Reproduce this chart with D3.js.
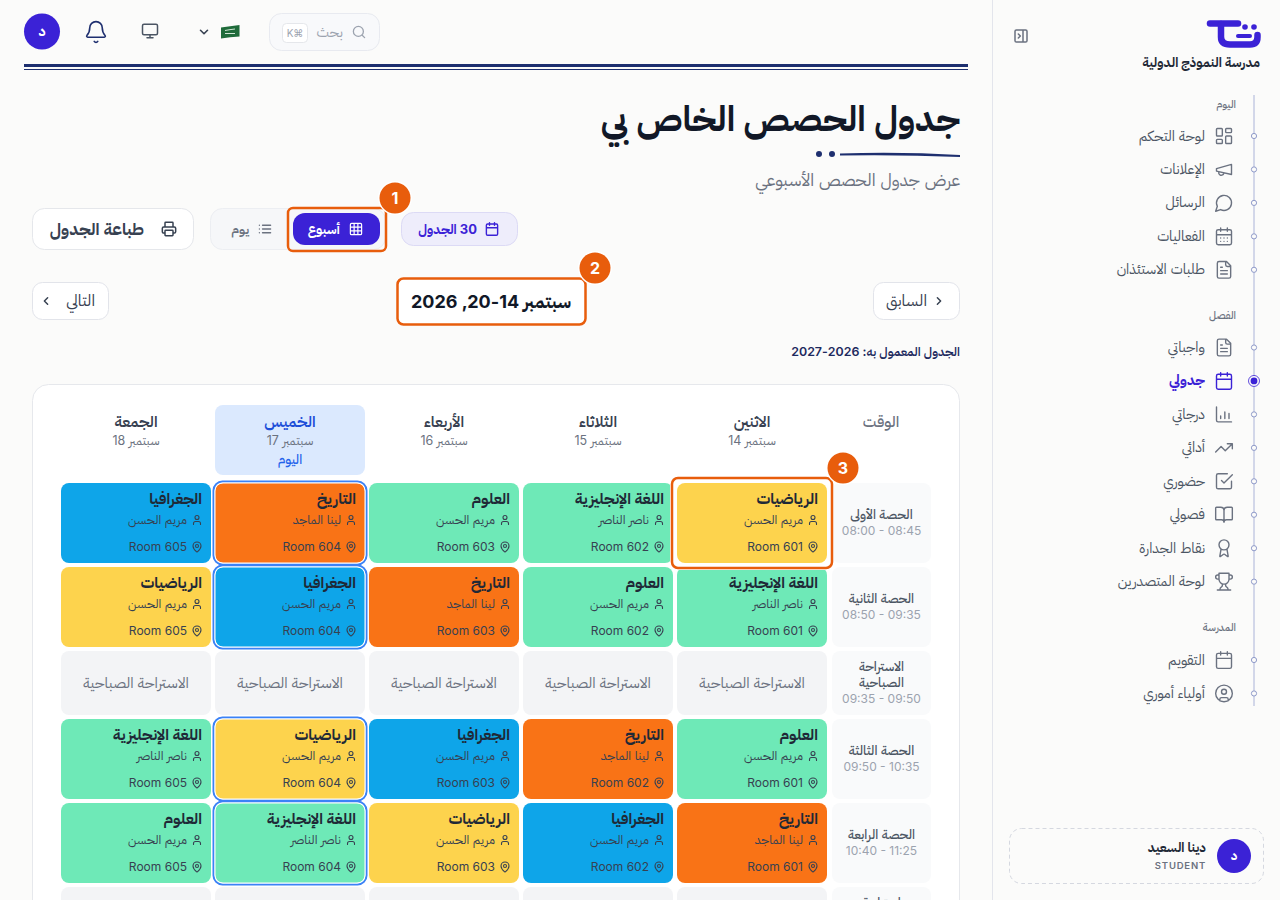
<!DOCTYPE html>
<html lang="ar" dir="rtl">
<head>
<meta charset="utf-8">
<title>جدولي</title>
<script src="https://cdn.jsdelivr.net/npm/d3@7/dist/d3.min.js"></script>
<style>
  html, body { margin: 0; padding: 0; background: #fbfbfa; overflow: hidden; }
  svg { display: block; font-family: "Inter", "IBM Plex Sans Arabic", "Noto Sans Arabic", "DejaVu Sans", sans-serif; direction: rtl; }
  text { dominant-baseline: central; }
  .ic { fill: none; stroke-linecap: round; stroke-linejoin: round; }
</style>
</head>
<body>
<div id="app"></div>
<script>
// data
const days = ["الاثنين", "الثلاثاء", "الأربعاء", "الخميس", "الجمعة"];
const dayDates = ["سبتمبر 14", "سبتمبر 15", "سبتمبر 16", "سبتمبر 17", "سبتمبر 18"];
const rooms = ["Room 601", "Room 602", "Room 603", "Room 604", "Room 605"];
const todayName = "الخميس";

const periodNames = ["الحصة الأولى", "الحصة الثانية", "الاستراحة الصباحية", "الحصة الثالثة", "الحصة الرابعة", "استراحة الغداء"];
const periodTimes = ["08:00 - 08:45", "08:50 - 09:35", "09:35 - 09:50", "09:50 - 10:35", "10:40 - 11:25", "11:25 - 12:10"];

const subjectNames = ["الرياضيات", "اللغة الإنجليزية", "العلوم", "التاريخ", "الجغرافيا"];
const subjectTeachers = ["مريم الحسن", "ناصر الناصر", "مريم الحسن", "لينا الماجد", "مريم الحسن"];
const subjectColors = ["#fdd34d", "#6ee9b7", "#6ee9b7", "#f97316", "#0ea5e9"];

// cells per period, monday first, null = break row
const period1 = ["الرياضيات", "اللغة الإنجليزية", "العلوم", "التاريخ", "الجغرافيا"];
const period2 = ["اللغة الإنجليزية", "العلوم", "التاريخ", "الجغرافيا", "الرياضيات"];
const period3 = null;
const period4 = ["العلوم", "التاريخ", "الجغرافيا", "الرياضيات", "اللغة الإنجليزية"];
const period5 = ["التاريخ", "الجغرافيا", "الرياضيات", "اللغة الإنجليزية", "العلوم"];
const period6 = null;
const timetable = [period1, period2, period3, period4, period5, period6];

const navToday = ["لوحة التحكم", "الإعلانات", "الرسائل", "الفعاليات", "طلبات الاستئذان"];
const navClass = ["واجباتي", "جدولي", "درجاتي", "أدائي", "حضوري", "فصولي", "نقاط الجدارة", "لوحة المتصدرين"];
const navSchool = ["التقويم", "أولياء أموري"];

// lucide style icons, 24 box
const icons = {
  grid4: "M4 3h5a1 1 0 0 1 1 1v7a1 1 0 0 1-1 1H4a1 1 0 0 1-1-1V4a1 1 0 0 1 1-1zM15 3h5a1 1 0 0 1 1 1v3a1 1 0 0 1-1 1h-5a1 1 0 0 1-1-1V4a1 1 0 0 1 1-1zM15 12h5a1 1 0 0 1 1 1v7a1 1 0 0 1-1 1h-5a1 1 0 0 1-1-1v-7a1 1 0 0 1 1-1zM4 16h5a1 1 0 0 1 1 1v3a1 1 0 0 1-1 1H4a1 1 0 0 1-1-1v-3a1 1 0 0 1 1-1z",
  megaphone: "M3 11l18-5v12L3 14v-3zM11.600 16.800a3 3 0 1 1-5.800-1.600",
  message: "M7.900 20A9 9 0 1 0 4 16.100L2 22Z",
  events: "M8 2v4M16 2v4M5 4h14a2 2 0 0 1 2 2v14a2 2 0 0 1-2 2H5a2 2 0 0 1-2-2V6a2 2 0 0 1 2-2zM3 10h18M8 14h.01M12 14h.01M16 14h.01M8 18h.01M12 18h.01M16 18h.01",
  file: "M15 2H6a2 2 0 0 0-2 2v16a2 2 0 0 0 2 2h12a2 2 0 0 0 2-2V7zM14 2v4a2 2 0 0 0 2 2h4M10 9H8M16 13H8M16 17H8",
  calendar: "M8 2v4M16 2v4M5 4h14a2 2 0 0 1 2 2v14a2 2 0 0 1-2 2H5a2 2 0 0 1-2-2V6a2 2 0 0 1 2-2zM3 10h18",
  chart: "M3 3v16a2 2 0 0 0 2 2h16M8 17v-3M13 17V9M18 17v-6",
  trending: "M22 7l-8.500 8.500-5-5L2 17M16 7h6v6",
  check: "M9 11l3 3L22 4M21 12v7a2 2 0 0 1-2 2H5a2 2 0 0 1-2-2V5a2 2 0 0 1 2-2h11",
  book: "M12 7v14M3 18a1 1 0 0 1-1-1V4a1 1 0 0 1 1-1h5a4 4 0 0 1 4 4 4 4 0 0 1 4-4h5a1 1 0 0 1 1 1v13a1 1 0 0 1-1 1h-6a3 3 0 0 0-3 3 3 3 0 0 0-3-3z",
  award: "M15.500 12.900l1.500 8.600a.5.5 0 0 1-.8.5l-3.600-2.700a1 1 0 0 0-1.200 0l-3.600 2.700a.5.5 0 0 1-.8-.5l1.500-8.600M18 8A6 6 0 1 1 6 8a6 6 0 0 1 12 0z",
  trophy: "M6 9H4.500a2.500 2.500 0 0 1 0-5H6M18 9h1.500a2.500 2.500 0 0 0 0-5H18M4 22h16M10 14.700V17c0 .6-.5 1-1 1.200C7.800 18.800 7 20.200 7 22M14 14.700V17c0 .6.5 1 1 1.200 1.200.6 2 2 2 3.800M18 2H6v7a6 6 0 0 0 12 0V2z",
  userCircle: "M12 2a10 10 0 1 0 0 20 10 10 0 0 0 0-20zM12 7a3 3 0 1 0 0 6 3 3 0 0 0 0-6zM7 20.700V19a2 2 0 0 1 2-2h6a2 2 0 0 1 2 2v1.700",
  user: "M19 21v-2a4 4 0 0 0-4-4H9a4 4 0 0 0-4 4v2M12 3a4 4 0 1 0 0 8 4 4 0 0 0 0-8z",
  pin: "M20 10c0 5-5.500 10.200-7.400 11.800a1 1 0 0 1-1.200 0C9.500 20.200 4 15 4 10a8 8 0 0 1 16 0zM12 7a3 3 0 1 0 0 6 3 3 0 0 0 0-6z",
  search: "M11 3a8 8 0 1 0 0 16 8 8 0 0 0 0-16zM21 21l-4.300-4.300",
  bell: "M10.300 21a2 2 0 0 0 3.400 0M3.300 15.300A1 1 0 0 0 4 17h16a1 1 0 0 0 .7-1.700C19.400 14 18 12.500 18 8A6 6 0 0 0 6 8c0 4.500-1.400 6-2.700 7.300z",
  monitor: "M4 3h16a2 2 0 0 1 2 2v10a2 2 0 0 1-2 2H4a2 2 0 0 1-2-2V5a2 2 0 0 1 2-2zM8 21h8M12 17v4",
  printer: "M6 18H4a2 2 0 0 1-2-2v-5a2 2 0 0 1 2-2h16a2 2 0 0 1 2 2v5a2 2 0 0 1-2 2h-2M6 9V3a1 1 0 0 1 1-1h10a1 1 0 0 1 1 1v6M7 14h10a1 1 0 0 1 1 1v6a1 1 0 0 1-1 1H7a1 1 0 0 1-1-1v-6a1 1 0 0 1 1-1z",
  list: "M3 12h.01M3 18h.01M3 6h.01M8 12h13M8 18h13M8 6h13",
  table: "M5 3h14a2 2 0 0 1 2 2v14a2 2 0 0 1-2 2H5a2 2 0 0 1-2-2V5a2 2 0 0 1 2-2zM3 9h18M3 15h18M9 3v18M15 3v18",
  down: "M6 9l6 6 6-6",
  left: "M15 18l-6-6 6-6",
  right: "M9 18l6-6-6-6",
  panel: "M5 3h14a2 2 0 0 1 2 2v14a2 2 0 0 1-2 2H5a2 2 0 0 1-2-2V5a2 2 0 0 1 2-2zM15 3v18M8 9l3 3-3 3"
};

const W = 1280, H = 900;
const INDIGO = "#3b22d6", ORANGE = "#e85d0c", NAVY = "#1e2f6f";

const svg = d3.select("#app").append("svg").attr("width", W).attr("height", H).attr("viewBox", `0 0 ${W} ${H}`);
svg.append("rect").attr("width", W).attr("height", H).attr("fill", "#fbfbfa");

function label(g, str, x, y, size, weight, color, anchor) {
  return g.append("text").attr("x", x).attr("y", y)
    .attr("font-size", size).attr("font-weight", weight).attr("fill", color)
    .attr("text-anchor", anchor || "start").text(str);
}

function icon(g, name, cx, cy, size, color, sw) {
  const s = size / 24;
  return g.append("path").attr("class", "ic").attr("d", icons[name])
    .attr("transform", `translate(${cx - size / 2},${cy - size / 2}) scale(${s})`)
    .attr("stroke", color).attr("stroke-width", (sw || 1.6) / s);
}

function box(g, x, y, w, h, r, fill, stroke, sw) {
  return g.append("rect").attr("x", x).attr("y", y).attr("width", w).attr("height", h).attr("rx", r)
    .attr("fill", fill).attr("stroke", stroke || "none").attr("stroke-width", sw || 1);
}

function badge(g, n, cx, cy) {
  g.append("circle").attr("cx", cx).attr("cy", cy).attr("r", 17).attr("fill", "#fff");
  g.append("circle").attr("cx", cx).attr("cy", cy).attr("r", 15.5).attr("fill", ORANGE);
  label(g, n, cx, cy, 16, 700, "#fff", "middle").attr("direction", "ltr");
}

// ---- sidebar
const side = svg.append("g");
side.append("line").attr("x1", 992.5).attr("x2", 992.5).attr("y1", 0).attr("y2", H).attr("stroke", "#e3e5ec");
icon(side, "panel", 1021, 36, 16, "#6b7280", 1.5);

// logo
const logo = side.append("g").attr("fill", "none").attr("stroke", INDIGO).attr("stroke-linecap", "round");
logo.append("path").attr("d", "M1210 23.500 H1238").attr("stroke-width", 6.5);
logo.append("path").attr("d", "M1221 24 V37 Q1221 44.500 1230 44.500 H1250 Q1257.500 44.500 1257.500 37 V35").attr("stroke-width", 6.5);
logo.append("path").attr("d", "M1238 36 H1250").attr("stroke-width", 4);
side.append("circle").attr("cx", 1245).attr("cy", 27).attr("r", 2.8).attr("fill", INDIGO);
side.append("circle").attr("cx", 1254).attr("cy", 27).attr("r", 2.8).attr("fill", INDIGO);

label(side, "مدرسة النموذج الدولية", 1260, 62, 13, 700, "#1f2937");

side.append("line").attr("x1", 1254).attr("x2", 1254).attr("y1", 95).attr("y2", 706).attr("stroke", "#aab3d8").attr("stroke-width", 1);

const navIcons = {
  "لوحة التحكم": "grid4", "الإعلانات": "megaphone", "الرسائل": "message", "الفعاليات": "events", "طلبات الاستئذان": "file",
  "واجباتي": "file", "جدولي": "calendar", "درجاتي": "chart", "أدائي": "trending", "حضوري": "check", "فصولي": "book",
  "نقاط الجدارة": "award", "لوحة المتصدرين": "trophy", "التقويم": "calendar", "أولياء أموري": "userCircle"
};

function navGroup(title, titleY, items, firstY) {
  label(side, title, 1236, titleY - 0.5, 10.5, 500, "#6b7280");
  const step = 33.45;
  items.forEach((name, i) => {
    const y = firstY + i * step;
    const active = name === "جدولي";
    if (active) {
      side.append("circle").attr("cx", 1254).attr("cy", y).attr("r", 5.5).attr("fill", "#fbfbfa").attr("stroke", INDIGO).attr("stroke-width", 0.8);
      side.append("circle").attr("cx", 1254).attr("cy", y).attr("r", 3.4).attr("fill", INDIGO);
    } else {
      side.append("circle").attr("cx", 1254).attr("cy", y).attr("r", 2.6).attr("fill", "#fbfbfa").attr("stroke", "#8f9ac9").attr("stroke-width", 1);
    }
    icon(side, navIcons[name], 1224, y, 20, active ? INDIGO : "#6b7280", 1.4);
    label(side, name, 1205, y - 1, 14.2, active ? 700 : 400, active ? INDIGO : "#4b5563");
  });
}
navGroup("اليوم", 105, navToday, 136);
navGroup("الفصل", 316, navClass, 347.5);
navGroup("المدرسة", 628, navSchool, 660);

box(side, 1009.5, 828.5, 254, 55, 12, "none", "#d5d8e0").attr("stroke-dasharray", "4 3");
side.append("circle").attr("cx", 1234).attr("cy", 856).attr("r", 17).attr("fill", INDIGO);
label(side, "د", 1234, 855, 13, 700, "#fff", "middle");
label(side, "دينا السعيد", 1206, 847, 13, 700, "#1f2937");
label(side, "STUDENT", 1206, 865, 9.5, 600, "#6b7280").attr("letter-spacing", 0.8);

// ---- top bar
const topBar = svg.append("g");
topBar.append("circle").attr("cx", 42).attr("cy", 31.5).attr("r", 18).attr("fill", INDIGO);
label(topBar, "د", 42, 30, 14, 700, "#fff", "middle");
icon(topBar, "bell", 96, 32, 25, NAVY, 1.6);
icon(topBar, "monitor", 150, 31, 18, "#4b5563", 1.5);
icon(topBar, "down", 204, 32, 14, "#374151", 1.6);
// flag
topBar.append("path").attr("d", "M221 27.500 Q230 26 239.500 25 L239.500 36.500 Q230 37 221 38.500 Z").attr("fill", "#1f6b3a");
topBar.append("path").attr("d", "M225 30.500 Q230 29.500 235 29 M225 33.500 H235").attr("stroke", "#cfe6d4").attr("stroke-width", 1).attr("fill", "none");
box(topBar, 269.5, 13.5, 110, 37, 12, "#f8f9fb", "#e8eaf0");
box(topBar, 282.5, 23.5, 25, 19, 4, "#fff", "#e5e7eb");
label(topBar, "K⌘", 295, 33, 10, 400, "#9ca3af", "middle").attr("direction", "ltr");
label(topBar, "بحث", 343, 31, 14.5, 400, "#9ca3af");
icon(topBar, "search", 359, 32, 15, "#9ca3af", 1.3);
topBar.append("line").attr("x1", 24).attr("x2", 968).attr("y1", 65.5).attr("y2", 65.5).attr("stroke", NAVY).attr("stroke-width", 3);
topBar.append("line").attr("x1", 24).attr("x2", 968).attr("y1", 69.5).attr("y2", 69.5).attr("stroke", NAVY).attr("stroke-width", 1);

// ---- page title
const head = svg.append("g");
label(head, "جدول الحصص الخاص بي", 960, 118, 35.3, 700, "#111827");
head.append("path").attr("d", "M840 153.500 Q900 151.500 960 155 L960 157 Q900 154.500 840 155.500 Z").attr("fill", NAVY);
head.append("circle").attr("cx", 832).attr("cy", 154).attr("r", 3).attr("fill", NAVY);
head.append("circle").attr("cx", 819).attr("cy", 154).attr("r", 3).attr("fill", NAVY);
label(head, "عرض جدول الحصص الأسبوعي", 960, 179.5, 17.3, 400, "#6b7280");

// ---- toolbar
const bar = svg.append("g");
box(bar, 401.5, 212.5, 116, 33, 12, "#eeedfb", "#dcdaf5");
icon(bar, "calendar", 492, 229, 15, INDIGO, 1.4);
label(bar, "30 الجدول", 477, 229, 13, 700, INDIGO);

box(bar, 210.5, 208.5, 175, 41, 12, "#f6f7f9", "#eceef2");
box(bar, 293, 213, 87, 32, 12, INDIGO);
icon(bar, "table", 356, 229, 15, "#fff", 1.2);
label(bar, "أسبوع", 340, 229, 13, 700, "#fff");
icon(bar, "list", 265, 229, 15, "#6b7280", 1.3);
label(bar, "يوم", 249, 229, 13, 600, "#6b7280");
box(bar, 288, 208, 98, 43, 5, "none", ORANGE, 2.5);
badge(bar, "1", 395, 198);

box(bar, 32.5, 208.5, 161, 41, 12, "#fff", "#e5e7eb");
icon(bar, "printer", 169, 229, 16, "#374151", 1.5);
label(bar, "طباعة الجدول", 144, 229, 16.8, 700, "#374151");

// ---- week nav
const weekNav = svg.append("g");
box(weekNav, 873.5, 282.5, 86, 37, 10, "#fff", "#e2e4ea");
icon(weekNav, "right", 939, 301, 13, "#374151", 1.5);
label(weekNav, "السابق", 927, 300, 16, 400, "#374151");
box(weekNav, 32.5, 282.5, 76, 37, 10, "#fff", "#e2e4ea");
icon(weekNav, "left", 46, 301, 13, "#374151", 1.5);
label(weekNav, "التالي", 95, 300, 16, 400, "#374151");
box(weekNav, 397.5, 278.5, 188, 46, 6, "#fff", ORANGE, 2.5);
label(weekNav, "سبتمبر 14-20, 2026", 491, 301, 18, 700, "#111827", "middle");
badge(weekNav, "2", 595, 268);
label(weekNav, "الجدول المعمول به: 2026-2027", 960, 351.5, 12.4, 600, "#1e2a5e");

// ---- timetable
const card = svg.append("g");
box(card, 32.5, 384.5, 927, 560, 16, "#fff", "#e6e8ec");

const x = d3.scaleBand().domain(days.slice().reverse()).range([61, 827]).paddingInner(4 / 154);
const cellW = x.bandwidth();
const gap = 4, lessonH = 80, breakH = 64;

// row positions come from the heights of the rows
const rowTops = [];
timetable.reduce((y, row, i) => { rowTops[i] = y; return y + (row ? lessonH : breakH) + gap; }, 483);

// day headers
label(card, "الوقت", 881, 421.5, 15.3, 500, "#6b7280", "middle");
days.forEach((d, i) => {
  const cx = x(d) + cellW / 2, today = d === todayName;
  if (today) box(card, x(d), 405, cellW, 70, 8, "#dbe9fe");
  label(card, d, cx, 421.5, 15.5, 600, today ? "#1d4ed8" : "#374151", "middle");
  label(card, dayDates[i], cx, 440.5, 12.5, 400, "#6b7280", "middle");
  if (today) label(card, "اليوم", cx, 458.5, 13, 500, "#2563eb", "middle");
});

// time column
const timeX = 832, timeW = 99;
timetable.forEach((row, r) => {
  const h = row ? lessonH : breakH, y = rowTops[r], cx = timeX + timeW / 2;
  box(card, timeX, y, timeW, h, 8, "#f9fafb");
  const lines = row ? [periodNames[r]] : periodNames[r].split(" ");
  const total = lines.length * 16 + 16;
  const startY = y + (h - total) / 2 + 8;
  lines.forEach((ln, i) => label(card, ln, cx, startY + i * 16 - 1.5, 13, 500, "#4b5563", "middle"));
  label(card, periodTimes[r], cx, startY + lines.length * 16 - 0.5, 12, 400, "#9ca3af", "middle").attr("direction", "ltr");
});

// cells
const colorOf = d3.scaleOrdinal().domain(subjectNames).range(subjectColors);
const teacherOf = d3.scaleOrdinal().domain(subjectNames).range(subjectTeachers);

timetable.forEach((row, r) => {
  const y = rowTops[r];
  if (!row) {
    days.forEach(d => {
      box(card, x(d), y, cellW, breakH, 8, "#f3f4f6");
      label(card, periodNames[r], x(d) + cellW / 2, y + breakH / 2 - 1, 15, 400, "#6b7280", "middle");
    });
    return;
  }
  row.forEach((subject, c) => {
    const d = days[c], left = x(d), right = left + cellW;
    if (d === todayName) {
      box(card, left - 1.5, y - 1.5, cellW + 3, lessonH + 3, 9, "none", "#3b82f6", 2);
      box(card, left, y, cellW, lessonH, 8, colorOf(subject), "#fff", 1);
    } else {
      box(card, left, y, cellW, lessonH, 8, colorOf(subject));
    }
    label(card, subject, right - 9, y + 15.5, 15.5, 700, "#1f2937");
    icon(card, "user", right - 14, y + 37, 12, "#374151", 1.1);
    label(card, teacherOf(subject), right - 24, y + 36, 12.4, 400, "#374151");
    icon(card, "pin", right - 14, y + 64, 12, "#374151", 1.1);
    label(card, rooms[c], right - 24, y + 63.5, 12, 400, "#374151").attr("direction", "ltr").attr("text-anchor", "end");
  });
});

// the highlighted first lesson
const hl = svg.append("g");
box(hl, x(days[0]) - 5, rowTops[0] - 5, cellW + 10, lessonH + 10, 6, "none", "#fff", 4);
box(hl, x(days[0]) - 5, rowTops[0] - 5, cellW + 10, lessonH + 10, 6, "none", ORANGE, 2.5);
badge(hl, "3", 843, 468);
</script>
</body>
</html>
